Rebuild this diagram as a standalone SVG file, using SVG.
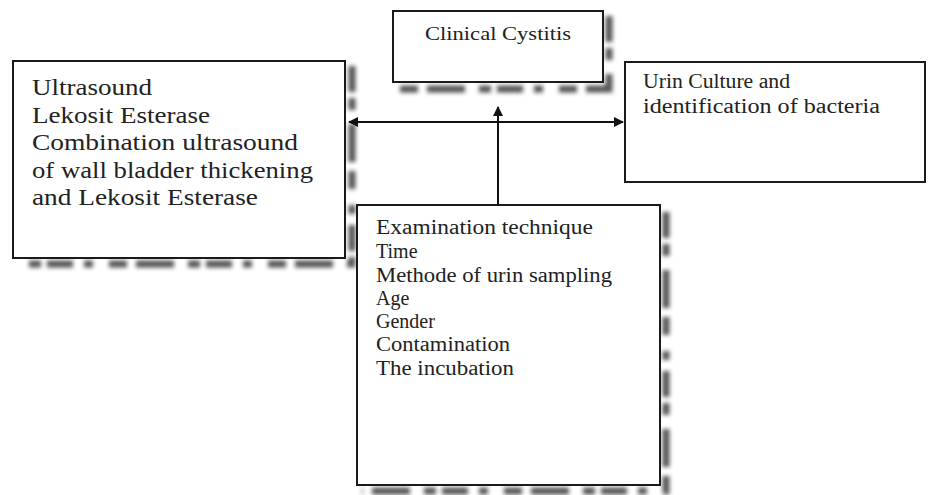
<svg xmlns="http://www.w3.org/2000/svg" width="931" height="495" viewBox="0 0 931 495">
<defs>
<style>
.box{fill:#ffffff;stroke:#1a1a1a;stroke-width:2}
.shadow{fill:none;stroke:#2a2a2a;stroke-width:7;stroke-dasharray:26 6 12 14 38 9 18 16 9 11;filter:url(#blur);opacity:0.8}
.t{font-family:"Liberation Serif","Times New Roman",serif;fill:#222;}
.big{font-size:24px}
.mid{font-size:20px}
.small{font-size:19px}
.conn{stroke:#111;stroke-width:2;fill:none}
</style>
<filter id="blur" x="-20%" y="-20%" width="140%" height="140%"><feGaussianBlur stdDeviation="2.2"/></filter>
<marker id="arr" viewBox="0 0 10 10" refX="9" refY="5" markerWidth="5" markerHeight="5" orient="auto-start-reverse" markerUnits="strokeWidth">
<path d="M0,0 L10,5 L0,10 z" fill="#111"/>
</marker>
</defs>
<rect width="931" height="495" fill="#ffffff"/>

<g id="clinical-cystitis">
<path class="shadow" d="M609,16 V89 H398"/>
<rect class="box" x="393" y="11" width="210" height="71"/>
<text class="t small" x="425" y="40" textLength="146" lengthAdjust="spacingAndGlyphs">Clinical Cystitis</text>
</g>

<g id="diagnostics">
<path class="shadow" d="M352,66 V264 H18"/>
<rect class="box" x="13" y="61" width="332" height="197"/>
<text class="t big" x="32" y="95" textLength="120" lengthAdjust="spacingAndGlyphs">Ultrasound</text>
<text class="t big" x="32" y="123" textLength="178" lengthAdjust="spacingAndGlyphs">Lekosit Esterase</text>
<text class="t big" x="32" y="150" textLength="266" lengthAdjust="spacingAndGlyphs">Combination ultrasound</text>
<text class="t big" x="32" y="178" textLength="281" lengthAdjust="spacingAndGlyphs">of wall bladder thickening</text>
<text class="t big" x="32" y="205" textLength="226" lengthAdjust="spacingAndGlyphs">and Lekosit Esterase</text>
</g>

<g id="urine-culture">
<path class="shadow" d="M630,188 H931"/>
<rect class="box" x="625" y="62" width="300" height="120"/>
<text class="t mid" x="643" y="88" textLength="147" lengthAdjust="spacingAndGlyphs">Urin Culture  and</text>
<text class="t mid" x="643" y="113" textLength="237" lengthAdjust="spacingAndGlyphs">identification  of  bacteria</text>
</g>

<g id="factors">
<path class="shadow" d="M666,212 V491 H362"/>
<rect class="box" x="357" y="205" width="303" height="280"/>
<text class="t mid" x="376" y="234" textLength="217" lengthAdjust="spacingAndGlyphs">Examination  technique</text>
<text class="t mid" x="376" y="258">Time</text>
<text class="t mid" x="376" y="282" textLength="236" lengthAdjust="spacingAndGlyphs">Methode of urin sampling</text>
<text class="t mid" x="376" y="305">Age</text>
<text class="t mid" x="376" y="328">Gender</text>
<text class="t mid" x="376" y="351" textLength="134" lengthAdjust="spacingAndGlyphs">Contamination</text>
<text class="t mid" x="376" y="375" textLength="138" lengthAdjust="spacingAndGlyphs">The incubation</text>
</g>

<g id="connectors">
<line class="conn" x1="349" y1="122" x2="623" y2="122" marker-start="url(#arr)" marker-end="url(#arr)"/>
<line class="conn" x1="498" y1="204" x2="498" y2="107" marker-end="url(#arr)"/>
</g>
</svg>
